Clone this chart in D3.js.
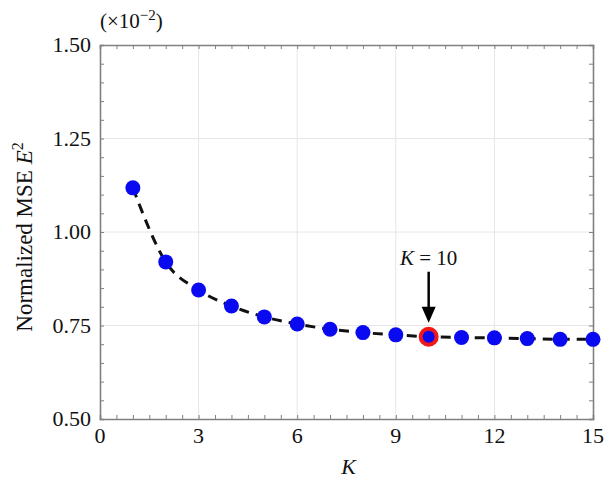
<!DOCTYPE html>
<html>
<head>
<meta charset="utf-8">
<script src="https://cdn.jsdelivr.net/npm/d3@7"></script>
<style>
  body { margin: 0; background: #fff; }
  text { font-family: "Liberation Serif", "DejaVu Serif", serif; fill: #111; }
</style>
</head>
<body>
<div id="chart"></div>
<script>
// data
const kValues = [1, 2, 3, 4, 5, 6, 7, 8, 9, 10, 11, 12, 13, 14, 15];
const mseValues = [1.118, 0.920, 0.845, 0.802, 0.773, 0.754, 0.740, 0.731, 0.725, 0.720, 0.718, 0.717, 0.715, 0.713, 0.713];
const xTicks = [0, 3, 6, 9, 12, 15];
const yTicks = [0.5, 0.75, 1.0, 1.25, 1.5];
const highlightK = 10;

const width = 604, height = 478;
const margin = { top: 45, right: 11, bottom: 59, left: 100 };

const svg = d3.select("#chart").append("svg")
  .attr("width", width)
  .attr("height", height);

const x = d3.scaleLinear().domain([0, 15]).range([margin.left, width - margin.right]);
const y = d3.scaleLinear().domain([0.5, 1.5]).range([height - margin.bottom, margin.top]);

// GRID
svg.append("g").selectAll("line.gx")
  .data(xTicks.slice(1, -1))
  .join("line")
  .attr("x1", d => x(d)).attr("x2", d => x(d))
  .attr("y1", y(0.5)).attr("y2", y(1.5))
  .attr("stroke", "#e6e6e6").attr("stroke-width", 1);

svg.append("g").selectAll("line.gy")
  .data(yTicks.slice(1, -1))
  .join("line")
  .attr("x1", x(0)).attr("x2", x(15))
  .attr("y1", d => y(d)).attr("y2", d => y(d))
  .attr("stroke", "#e6e6e6").attr("stroke-width", 1);

// AXES (ticks inward on all sides)
const frameColor = "#808080";
const xMinor = d3.range(0, 15.01, 0.5);
const yMinor = d3.range(0.5, 1.501, 0.05);

const bottomAxis = svg.append("g")
  .attr("transform", `translate(0,${y(0.5)})`)
  .call(d3.axisBottom(x).tickValues(xMinor).tickSize(-4).tickFormat(""));
const topAxis = svg.append("g")
  .attr("transform", `translate(0,${y(1.5)})`)
  .call(d3.axisTop(x).tickValues(xMinor).tickSize(-4).tickFormat(""));
const leftAxis = svg.append("g")
  .attr("transform", `translate(${x(0)},0)`)
  .call(d3.axisLeft(y).tickValues(yMinor).tickSize(-4).tickFormat(""));
const rightAxis = svg.append("g")
  .attr("transform", `translate(${x(15)},0)`)
  .call(d3.axisRight(y).tickValues(yMinor).tickSize(-4).tickFormat(""));

[bottomAxis, topAxis, leftAxis, rightAxis].forEach(g => {
  g.select(".domain").attr("stroke", frameColor).attr("stroke-width", 1.6);
  g.selectAll(".tick line").attr("stroke", frameColor).attr("stroke-width", 1);
});

// tick labels
svg.append("g").selectAll("text")
  .data(xTicks)
  .join("text")
  .attr("x", d => x(d))
  .attr("y", y(0.5) + 24)
  .attr("text-anchor", "middle")
  .style("font-size", "22px")
  .text(d => d);

svg.append("g").selectAll("text")
  .data(yTicks)
  .join("text")
  .attr("x", x(0) - 9)
  .attr("y", d => y(d) + 7)
  .attr("text-anchor", "end")
  .style("font-size", "22px")
  .text(d => d3.format(".2f")(d));

// axis titles
svg.append("text")
  .attr("x", x(7.5) + 2)
  .attr("y", height - 4)
  .attr("text-anchor", "middle")
  .style("font-size", "22px")
  .style("font-style", "italic")
  .text("K");

const yTitle = svg.append("text")
  .attr("transform", `translate(32,${(y(0.5) + y(1.5)) / 2 + 5}) rotate(-90)`)
  .attr("text-anchor", "middle")
  .style("font-size", "23px");
yTitle.append("tspan").text("Normalized MSE ");
yTitle.append("tspan").style("font-style", "italic").text("E");
yTitle.append("tspan").attr("dy", -9).style("font-size", "16px").text("2");

const mult = svg.append("text")
  .attr("x", x(0))
  .attr("y", 28)
  .style("font-size", "21px");
mult.append("tspan").text("(×10");
mult.append("tspan").attr("dy", -8).style("font-size", "15px").text("−2");
mult.append("tspan").attr("dy", 8).text(")");

// DASHED LINE
const line = d3.line()
  .x((d, i) => x(kValues[i]))
  .y(d => y(d))
  .curve(d3.curveMonotoneX);

svg.append("path")
  .datum(mseValues)
  .attr("d", line)
  .attr("fill", "none")
  .attr("stroke", "#111")
  .attr("stroke-width", 3)
  .attr("stroke-dasharray", "10,7");

// MARKERS
const pts = kValues.map((k, i) => ({ k, v: mseValues[i] }));

svg.append("g").selectAll("circle")
  .data(pts)
  .join("circle")
  .attr("cx", d => x(d.k))
  .attr("cy", d => y(d.v))
  .attr("r", d => d.k === highlightK ? 10 : 7.5)
  .attr("fill", d => d.k === highlightK ? "#f01818" : "#0a0af0");

const hp = pts.find(d => d.k === highlightK);
svg.append("circle")
  .attr("cx", x(hp.k))
  .attr("cy", y(hp.v))
  .attr("r", 6)
  .attr("fill", "#0a0af0");

// ANNOTATION
const ax = x(hp.k);
const arrowTop = y(hp.v) - 65;
const arrowTip = y(hp.v) - 14;

svg.append("line")
  .attr("x1", ax).attr("x2", ax)
  .attr("y1", arrowTop).attr("y2", arrowTip - 12)
  .attr("stroke", "#000")
  .attr("stroke-width", 2.5);

svg.append("path")
  .attr("d", `M${ax - 7},${arrowTip - 16} L${ax + 7},${arrowTip - 16} L${ax},${arrowTip} Z`)
  .attr("fill", "#000");

const ann = svg.append("text")
  .attr("x", ax)
  .attr("y", arrowTop - 7)
  .attr("text-anchor", "middle")
  .style("font-size", "21px");
ann.append("tspan").style("font-style", "italic").text("K");
ann.append("tspan").text(" = " + highlightK);
</script>
</body>
</html>
